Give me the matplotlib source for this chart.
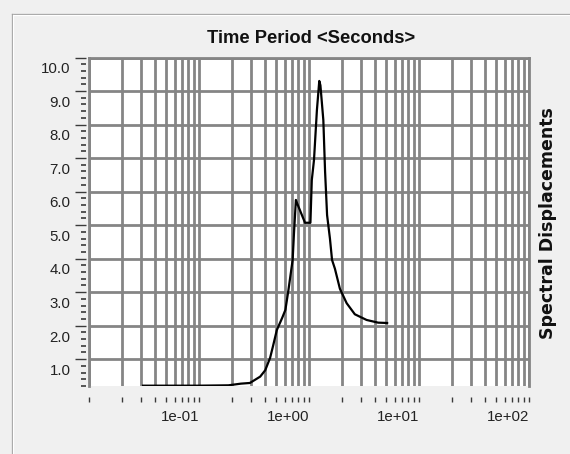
import numpy as np
import matplotlib
matplotlib.use('Agg')
import matplotlib.pyplot as plt
from matplotlib.lines import Line2D
from matplotlib.ticker import LogLocator, NullFormatter, MultipleLocator
from matplotlib.transforms import ScaledTranslation

# response spectrum values (period in s, spectral displacement)
period = [0.031, 0.10, 0.185, 0.24, 0.29, 0.36, 0.40, 0.443, 0.47, 0.51,
          0.57, 0.61, 0.65, 0.71, 0.73, 0.76, 0.78, 0.92, 1.03, 1.06,
          1.11, 1.18, 1.24, 1.27, 1.35, 1.40, 1.46, 1.55, 1.62, 1.72,
          1.91, 2.20, 2.61, 3.34, 4.25, 5.13]
disp = [0.21, 0.21, 0.22, 0.27, 0.29, 0.48, 0.67, 1.04, 1.38, 1.87,
        2.23, 2.47, 3.06, 3.96, 4.75, 5.75, 5.65, 5.07, 5.07, 6.34,
        6.94, 8.43, 9.30, 9.17, 8.13, 6.60, 5.30, 4.60, 3.96, 3.70,
        3.10, 2.67, 2.34, 2.17, 2.09, 2.08]

x_ticks = [0.01, 0.1, 1, 10, 100]
x_labels = ['', '1e-01', '1e+00', '1e+01', '1e+02']
y_ticks = [1, 2, 3, 4, 5, 6, 7, 8, 9, 10]
y_labels = ['1.0', '2.0', '3.0', '4.0', '5.0', '6.0', '7.0', '8.0', '9.0', '10.0']

W, H = 570, 454
bg = '#f0f0f0'
grid_c = '#858585'
tick_c = '#3a3a3a'

fig = plt.figure(figsize=(W / 100, H / 100), dpi=100, facecolor=bg)
ax = fig.add_axes([89 / W, 1 - 386 / H, (529 - 89) / W, (386 - 57.5) / H])
ax.set_facecolor('white')
ax.set_axisbelow(True)

ax.plot(period, disp, color='black', lw=1.6, solid_joinstyle='round', zorder=3)

ax.set_xscale('log')
ax.set_xlim(0.01, 100)
ax.set_ylim(0.2, 10.0)

ax.set_xticks(x_ticks, x_labels)
ax.xaxis.set_minor_locator(LogLocator(base=10, subs=np.arange(2, 10)))
ax.xaxis.set_minor_formatter(NullFormatter())
ax.set_yticks(y_ticks, y_labels)
ax.yaxis.set_minor_locator(MultipleLocator(0.2))

ax.grid(True, which='both', axis='x', color=grid_c, lw=2.0)
ax.grid(True, which='major', axis='y', color=grid_c, lw=2.0)

# frame: gray on top/right/left, nothing along the bottom
for side in ['top', 'right']:
    ax.spines[side].set_color(grid_c)
    ax.spines[side].set_linewidth(2.0)
ax.spines['bottom'].set_visible(False)
ax.spines['bottom'].set_position(('outward', 8))
ax.spines['left'].set_visible(False)
ax.spines['left'].set_position(('outward', 2.2))
ax.axvline(0.01, color=grid_c, lw=2.0, clip_on=False, zorder=1)

ax.tick_params(axis='x', which='both', direction='out', length=3.6, width=1.0,
               color=tick_c, pad=5.5, labelsize=10.8, labelcolor='#222222')
ax.tick_params(axis='y', which='major', direction='out', length=8, width=1.0,
               color=tick_c, pad=3.2, labelsize=10.8, labelcolor='#222222')
ax.tick_params(axis='y', which='minor', direction='out', length=3.6, width=1.2,
               color=tick_c)

for lbl in ax.get_xticklabels():
    lbl.set_fontfamily('Liberation Sans')
    lbl.set_ha('right')

shift = ScaledTranslation(0, -3.5 / 72, fig.dpi_scale_trans)
for tick in ax.yaxis.get_major_ticks():
    tick.label1.set_fontfamily('Liberation Sans')
    tick.label1.set_va('top')
    tick.label1.set_transform(tick.label1.get_transform() + shift)

fig.text(311 / W, 1 - 38.5 / H, 'Time Period <Seconds>', ha='center', va='center',
         fontsize=13.2, fontweight='bold', family='Liberation Sans', color='#111111')
fig.text(548 / W, 1 - 223 / H, 'Spectral Displacements', ha='center', va='center',
         rotation=90, fontsize=12.5, fontweight='bold', family='DejaVu Sans',
         color='#111111')

# etched group-box border
fig.add_artist(Line2D([12 / W, 1], [1 - 14 / H] * 2, transform=fig.transFigure,
                      color='#a0a0a0', lw=0.9))
fig.add_artist(Line2D([12 / W, 1], [1 - 15.2 / H] * 2, transform=fig.transFigure,
                      color='white', lw=0.9))
fig.add_artist(Line2D([12 / W] * 2, [0, 1 - 14 / H], transform=fig.transFigure,
                      color='#a0a0a0', lw=0.9))
fig.add_artist(Line2D([13.2 / W] * 2, [0, 1 - 15.2 / H], transform=fig.transFigure,
                      color='white', lw=0.9))

fig.savefig('out.png', dpi=100, facecolor=bg)
